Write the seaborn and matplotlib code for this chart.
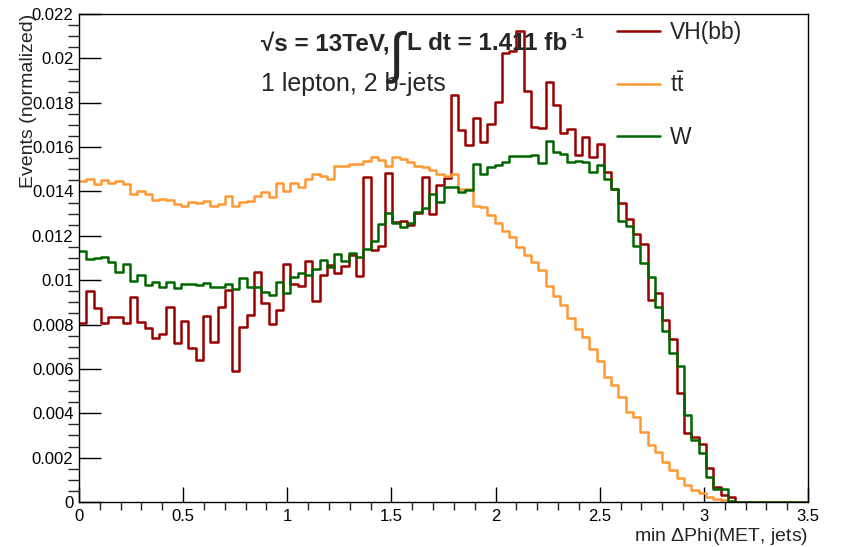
import numpy as np
import pandas as pd
import matplotlib
matplotlib.use("Agg")
import matplotlib.pyplot as plt
from matplotlib.ticker import MultipleLocator, FuncFormatter
from matplotlib.lines import Line2D
import seaborn as sns

# binning: 100 bins over 0 - 3.5
edges = np.linspace(0, 3.5, 101)
centers = 0.5 * (edges[:-1] + edges[1:])

# normalized bin contents
vh_bb = [0.00808, 0.00951, 0.00875, 0.00805, 0.00836, 0.00836, 0.00805, 0.00923, 0.00811, 0.00783,
         0.00738, 0.00757, 0.00878, 0.00718, 0.00815, 0.00693, 0.00640, 0.00839, 0.00723, 0.00878,
         0.00956, 0.00591, 0.00788, 0.00843, 0.01038, 0.00896, 0.00801, 0.00866, 0.01073, 0.00983,
         0.00974, 0.01086, 0.00908, 0.01023, 0.01068, 0.01034, 0.01064, 0.01114, 0.01019, 0.01464,
         0.01136, 0.01154, 0.01485, 0.01264, 0.01268, 0.01250, 0.01301, 0.01467, 0.01298, 0.01429,
         0.01459, 0.01835, 0.01677, 0.01609, 0.01730, 0.01624, 0.01704, 0.01805, 0.02023, 0.02035,
         0.02125, 0.01854, 0.01689, 0.01685, 0.01895, 0.01790, 0.01662, 0.01680, 0.01564, 0.01647,
         0.01557, 0.01614, 0.01489, 0.01410, 0.01349, 0.01274, 0.01208, 0.01163, 0.00911, 0.00941,
         0.00822, 0.00733, 0.00490, 0.00312, 0.00294, 0.00261, 0.00152, 0.00066, 0.00032, 0.00021,
         0, 0, 0, 0, 0, 0, 0, 0, 0, 0]

ttbar = [0.01449, 0.01455, 0.01434, 0.01452, 0.01440, 0.01447, 0.01434, 0.01387, 0.01403, 0.01390,
         0.01363, 0.01366, 0.01360, 0.01342, 0.01336, 0.01354, 0.01350, 0.01355, 0.01336, 0.01342,
         0.01380, 0.01334, 0.01352, 0.01357, 0.01381, 0.01396, 0.01373, 0.01437, 0.01404, 0.01437,
         0.01419, 0.01456, 0.01479, 0.01470, 0.01456, 0.01515, 0.01513, 0.01522, 0.01524, 0.01539,
         0.01554, 0.01542, 0.01515, 0.01554, 0.01545, 0.01534, 0.01516, 0.01512, 0.01497, 0.01479,
         0.01470, 0.01479, 0.01410, 0.01410, 0.01336, 0.01330, 0.01294, 0.01259, 0.01222, 0.01196,
         0.01151, 0.01114, 0.01083, 0.01047, 0.00973, 0.00929, 0.00886, 0.00828, 0.00781, 0.00742,
         0.00688, 0.00636, 0.00562, 0.00526, 0.00475, 0.00407, 0.00382, 0.00315, 0.00257, 0.00227,
         0.00182, 0.00144, 0.00107, 0.00077, 0.00054, 0.00039, 0.00024, 0.00014, 0.00007, 0.00002,
         0, 0, 0, 0, 0, 0, 0, 0, 0, 0]

w_jets = [0.01133, 0.01094, 0.01098, 0.01106, 0.01083, 0.01038, 0.01073, 0.00998, 0.01022, 0.00980,
          0.00993, 0.00971, 0.00992, 0.00966, 0.00981, 0.00983, 0.00978, 0.00986, 0.00968, 0.00971,
          0.00981, 0.00960, 0.01011, 0.00971, 0.00971, 0.00948, 0.00933, 0.00990, 0.00944, 0.01016,
          0.01031, 0.01023, 0.01049, 0.01091, 0.01061, 0.01118, 0.01088, 0.01121, 0.01103, 0.01142,
          0.01178, 0.01253, 0.01304, 0.01259, 0.01241, 0.01259, 0.01306, 0.01324, 0.01387, 0.01354,
          0.01422, 0.01419, 0.01399, 0.01407, 0.01524, 0.01479, 0.01512, 0.01519, 0.01534, 0.01560,
          0.01560, 0.01560, 0.01564, 0.01530, 0.01629, 0.01577, 0.01570, 0.01532, 0.01536, 0.01535,
          0.01489, 0.01519, 0.01456, 0.01410, 0.01267, 0.01244, 0.01154, 0.01076, 0.01016, 0.00879,
          0.00773, 0.00670, 0.00613, 0.00392, 0.00280, 0.00222, 0.00114, 0.00057, 0.00057, 0.00003,
          0, 0, 0, 0, 0, 0, 0, 0, 0, 0]

labels = ["VH(bb)", r"$\mathrm{t\bar{t}}$", "W"]
colors = ["#990000", "#FF9933", "#006600"]

sns.set_style("ticks")
plt.rcParams["font.family"] = ["Liberation Sans", "DejaVu Sans"]
plt.rcParams["mathtext.fontset"] = "custom"
plt.rcParams["mathtext.rm"] = "Liberation Sans"
plt.rcParams["mathtext.bf"] = "Liberation Sans:bold"

fig = plt.figure(figsize=(8.41, 5.47), dpi=100)
ax = fig.add_axes([79 / 841, 45 / 547, 729 / 841, 488 / 547])

df = pd.DataFrame({"x": np.tile(centers, 3),
                   "w": np.concatenate([vh_bb, ttbar, w_jets]),
                   "sample": np.repeat(["VH", "tt", "W"], len(centers))})

for name, c in zip(["VH", "tt", "W"], colors):
    sub = df[df["sample"] == name]
    sns.histplot(data=sub, x="x", weights="w", bins=edges.tolist(), element="step",
                 fill=False, color=c, linewidth=1.8, ax=ax)

ax.set_xlim(0, 3.5)
ax.set_ylim(0, 0.022)

# ROOT-like axes
ax.xaxis.set_major_locator(MultipleLocator(0.5))
ax.xaxis.set_minor_locator(MultipleLocator(0.1))
ax.yaxis.set_major_locator(MultipleLocator(0.002))
ax.yaxis.set_minor_locator(MultipleLocator(0.0005))
fmt = FuncFormatter(lambda v, p: "%g" % round(v, 6))
ax.xaxis.set_major_formatter(fmt)
ax.yaxis.set_major_formatter(fmt)
ax.tick_params(axis="both", direction="in", labelsize=12, colors="black", width=1.0)
ax.tick_params(axis="x", which="major", length=11, pad=5)
ax.tick_params(axis="x", which="minor", length=5.5, width=1.0)
ax.tick_params(axis="y", which="major", length=16, pad=4)
ax.tick_params(axis="y", which="minor", length=8, width=1.0)
for s in ax.spines.values():
    s.set_linewidth(1.0)
    s.set_color("black")

ax.set_xlabel(r"min $\Delta$Phi(MET, jets)", fontsize=14, loc="right")
ax.xaxis.set_label_coords(1.0, -0.05)
ax.set_ylabel("Events (normalized)", fontsize=14, loc="top")
ax.yaxis.set_label_coords(-0.058, 1.0)

# legend
handles = [Line2D([], [], color=c, lw=1.8) for c in colors]
ax.legend(handles, labels, loc="upper left", bbox_to_anchor=(617 / 841, 1 - 21 / 547),
          bbox_transform=fig.transFigure, frameon=False, fontsize=16.5,
          handlelength=1.87, handletextpad=0.45, labelspacing=1.25,
          borderpad=0, borderaxespad=0)

# labels
fig.text(261 / 841, 1 - 50 / 547, "\u221as = 13TeV,", fontsize=17.5, fontweight="bold", va="baseline")
fig.text(389 / 841, 1 - 71 / 547, "\u222b", fontsize=40, va="baseline")
fig.text(407 / 841, 1 - 50 / 547, "L dt = 1.411 fb", fontsize=17.5, fontweight="bold", va="baseline")
fig.text(570 / 841, 1 - 38 / 547, "-1", fontsize=11, fontweight="bold", va="baseline")
fig.text(261 / 841, 1 - 91 / 547, "1 lepton, 2 b-jets", fontsize=18, va="baseline")

fig.savefig("out.png", dpi=100)
